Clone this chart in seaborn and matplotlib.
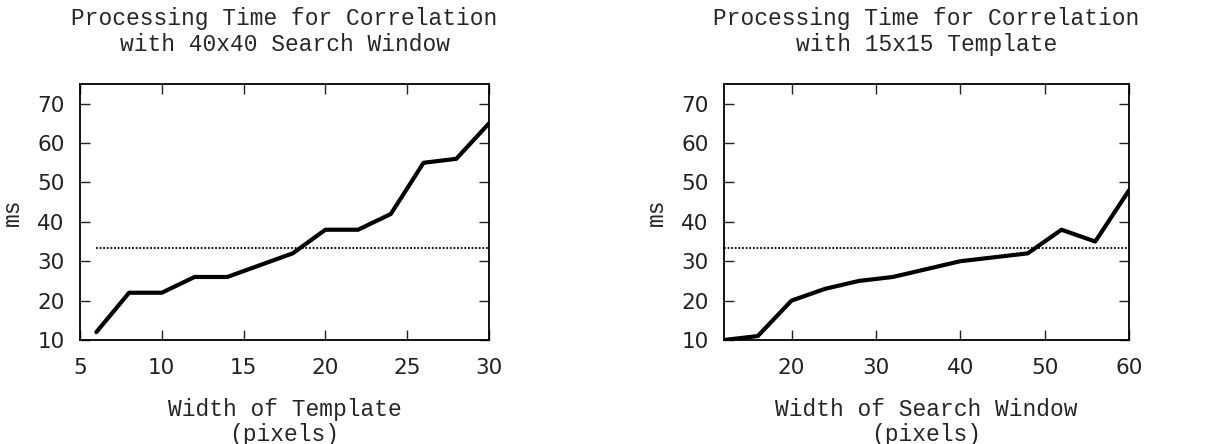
"""
Processing time for correlation - two panels
"""

import matplotlib
matplotlib.use("Agg")
import matplotlib.pyplot as plt
import seaborn as sns
import pandas as pd

# ==========================================================
# Data
# ==========================================================

template_width = [6, 8, 10, 12, 14, 16, 18, 20, 22, 24, 26, 28, 30]
template_ms = [12, 22, 22, 26, 26, 29, 32, 38, 38, 42, 55, 56, 65]

window_width = [12, 16, 20, 24, 28, 32, 36, 40, 44, 48, 52, 56, 60]
window_ms = [10, 11, 20, 23, 25, 26, 28, 30, 31, 32, 38, 35, 48]

frame_ms = 33.3  # 30 fps budget

left_title = "Processing Time for Correlation\nwith 40x40 Search Window"
right_title = "Processing Time for Correlation\nwith 15x15 Template"
left_xlabel = "Width of Template\n(pixels)"
right_xlabel = "Width of Search Window\n(pixels)"

left_xticks = [5, 10, 15, 20, 25, 30]
right_xticks = [20, 30, 40, 50, 60]
yticks = [10, 20, 30, 40, 50, 60, 70]

# ==========================================================
# Style
# ==========================================================

sns.set_style("ticks")
plt.rcParams["font.family"] = ["DejaVu Sans"]

MONO = "Liberation Mono"

fig = plt.figure(figsize=(12.25, 4.44), dpi=100)

ax_left = fig.add_axes([80 / 1225, 104 / 444, 409 / 1225, 256 / 444])
ax_right = fig.add_axes([724 / 1225, 104 / 444, 405 / 1225, 256 / 444])


def draw_panel(ax, x, y, xlim, xticks, title, xlabel, ref_x):
    df = pd.DataFrame({"x": x, "ms": y})
    sns.lineplot(data=df, x="x", y="ms", ax=ax, color="black", linewidth=3.0)

    ref = pd.DataFrame({"x": ref_x, "ms": [frame_ms, frame_ms]})
    sns.lineplot(data=ref, x="x", y="ms", ax=ax, color="black",
                 linewidth=1.3, linestyle=(0, (1, 1)))

    ax.set_xlim(xlim)
    ax.set_ylim(10, 75)
    ax.set_xticks(xticks)
    ax.set_yticks(yticks)

    ax.tick_params(direction="in", length=7.5, width=1.0, top=True,
                   right=True, labelsize=15.5, pad=11, colors="#222222")
    ax.tick_params(axis="x", pad=13)

    for side in ax.spines.values():
        side.set_linewidth(1.3)
        side.set_color("black")

    ax.set_title(title, fontfamily=MONO, fontsize=16.5, pad=24,
                 linespacing=1.15)
    ax.set_xlabel(xlabel, fontfamily=MONO, fontsize=16.5, labelpad=14,
                  linespacing=1.15)
    ax.set_ylabel("ms", fontfamily=MONO, fontsize=16.5, labelpad=10)


draw_panel(ax_left, template_width, template_ms, (5, 30), left_xticks,
           left_title, left_xlabel, [6, 30])
draw_panel(ax_right, window_width, window_ms, (12, 60), right_xticks,
           right_title, right_xlabel, [12, 60])

fig.savefig("out.png", dpi=100)
